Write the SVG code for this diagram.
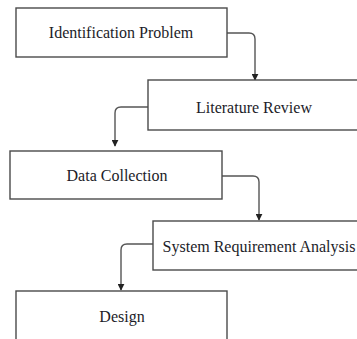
<svg xmlns="http://www.w3.org/2000/svg" width="357" height="339" viewBox="0 0 357 339">
<defs>
<marker id="ah" viewBox="0 0 10 10" refX="9" refY="5" markerWidth="7" markerHeight="7" orient="auto" markerUnits="userSpaceOnUse"><path d="M0,0 L10,5 L0,10 z" fill="#222"/></marker>
<style>
.box{fill:#fff;stroke:#4a4a4a;stroke-width:1.4}
.lbl{font-family:"Liberation Serif","Times New Roman",serif;font-size:16px;fill:#1c1c28;text-anchor:middle}
.con{fill:none;stroke:#555;stroke-width:1.4;marker-end:url(#ah)}
</style>
</defs>
<rect width="357" height="339" fill="#fff"/>
<g id="connectors">
<path class="con" d="M227,33 H249 Q255,33 255,39 V80"/>
<path class="con" d="M148,107 H121 Q115,107 115,113 V146"/>
<path class="con" d="M222,176 H253 Q259,176 259,182 V220"/>
<path class="con" d="M153,244 H127 Q121,244 121,250 V290"/>
</g>
<g id="n1"><rect class="box" x="16" y="8" width="211" height="49"/><text class="lbl" x="121" y="38">Identification Problem</text></g>
<g id="n2"><rect class="box" x="148" y="80" width="215" height="50"/><text class="lbl" x="254" y="113">Literature Review</text></g>
<g id="n3"><rect class="box" x="10" y="151" width="212" height="48"/><text class="lbl" x="117" y="181">Data Collection</text></g>
<g id="n4"><rect class="box" x="153" y="221" width="215" height="49"/><text class="lbl" x="259" y="252">System Requirement Analysis</text></g>
<g id="n5"><rect class="box" x="16" y="291" width="211" height="55"/><text class="lbl" x="122" y="322">Design</text></g>
</svg>
